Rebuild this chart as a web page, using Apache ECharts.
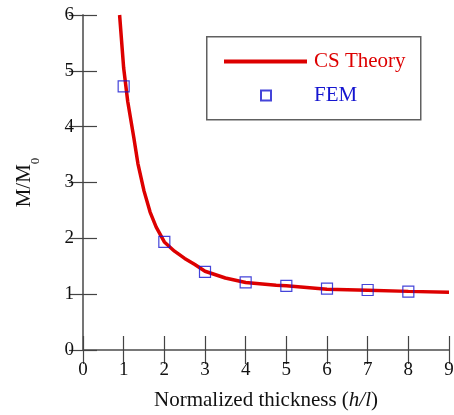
<!DOCTYPE html>
<html>
<head>
<meta charset="utf-8">
<script src="https://cdn.jsdelivr.net/npm/echarts@6/dist/echarts.min.js"></script>
<style>
  html, body { margin: 0; padding: 0; background: #fff; }
  #chart { width: 454px; height: 415px; }
</style>
</head>
<body>
<div id="chart"></div>
<script>
// CS theory curve
const curveX = [0.9, 1.0, 1.1, 1.25, 1.35, 1.5, 1.65, 1.8, 2.0, 2.25, 2.5, 2.75, 3.0, 3.5, 4.0, 4.75, 5.0, 6.0, 7.0, 8.0, 9.0]
const curveY = [6.0, 5.05, 4.45, 3.8, 3.34, 2.85, 2.47, 2.2, 1.935, 1.77, 1.64, 1.53, 1.41, 1.29, 1.21, 1.16, 1.15, 1.09, 1.07, 1.05, 1.035]
// FEM points
const femX = [1, 2, 3, 4, 5, 6, 7, 8]
const femY = [4.72, 1.935, 1.40, 1.21, 1.15, 1.10, 1.075, 1.045]

const xTicks = { min: 0, max: 9, interval: 1 }
const yTicks = { min: 0, max: 6, interval: 1 }

const serif = 'Liberation Serif'
const red = '#dd0000'
const blue = '#1515d0'

const axisLine = { lineStyle: { color: '#707070', width: 1.6 } }
const axisTick = { inside: true, length: 14, lineStyle: { color: '#444', width: 1.2 } }
const axisLabel = { fontFamily: serif, fontSize: 19, color: '#111', margin: 9 }

const legendText = { fontFamily: serif, fontSize: 21 }

const option = {
  animation: false,
  grid: { left: 83, right: 5, top: 15, bottom: 65, outerBoundsMode: 'none', containLabel: false },
  // legend frame
  graphic: [{
    type: 'rect',
    left: 206,
    top: 36,
    shape: { width: 214, height: 83 },
    style: { fill: '#fff', stroke: '#606060', lineWidth: 1.5 },
    z: 10
  }],
  legend: [
    {
      left: 224,
      top: 51,
      padding: 0,
      itemWidth: 83,
      itemHeight: 4,
      textStyle: legendText,
      z: 20,
      data: [{ name: 'CS Theory', icon: 'rect', textStyle: { color: red, padding: [0, 0, 0, 2] } }]
    },
    {
      left: 260,
      top: 85,
      padding: 0,
      itemWidth: 10,
      itemHeight: 10,
      textStyle: legendText,
      z: 20,
      data: [{ name: 'FEM', icon: 'rect', textStyle: { color: blue, padding: [0, 0, 0, 38] } }]
    }
  ],
  xAxis: [
    Object.assign({
      type: 'value',
      position: 'bottom',
      axisLine,
      axisTick,
      axisLabel: Object.assign({}, axisLabel, { margin: 11 }),
      splitLine: { show: false },
      name: 'Normalized thickness ({i|h/l})',
      nameLocation: 'middle',
      nameGap: 40,
      nameTextStyle: {
        fontFamily: serif, fontSize: 21, color: '#111',
        rich: { i: { fontFamily: serif, fontSize: 21, fontStyle: 'italic', color: '#111' } }
      }
    }, xTicks),
    Object.assign({
      type: 'value',
      position: 'top',
      axisLine,
      axisTick,
      axisLabel: { show: false },
      splitLine: { show: false }
    }, xTicks)
  ],
  yAxis: [
    Object.assign({
      type: 'value',
      position: 'left',
      axisLine,
      axisTick,
      axisLabel,
      splitLine: { show: false },
      name: '{m|M/M}{s|0}',
      nameLocation: 'middle',
      nameGap: 41,
      nameTextStyle: {
        rich: {
          m: { fontFamily: serif, fontSize: 21, color: '#111', lineHeight: 28, verticalAlign: 'top' },
          s: { fontFamily: serif, fontSize: 13, color: '#111', lineHeight: 28, verticalAlign: 'bottom' }
        }
      }
    }, yTicks),
    Object.assign({
      type: 'value',
      position: 'right',
      axisLine,
      axisTick,
      axisLabel: { show: false },
      splitLine: { show: false }
    }, yTicks)
  ],
  series: [
    {
      name: 'CS Theory',
      type: 'line',
      xAxisIndex: 0,
      yAxisIndex: 0,
      showSymbol: false,
      symbol: 'none',
      lineStyle: { color: red, width: 3.5 },
      itemStyle: { color: red },
      data: curveX.map((x, i) => [x, curveY[i]])
    },
    {
      name: 'FEM',
      type: 'scatter',
      xAxisIndex: 0,
      yAxisIndex: 0,
      symbol: 'rect',
      symbolSize: 11,
      itemStyle: { color: 'rgba(0,0,0,0)', borderColor: blue, borderWidth: 1.2 },
      z: 3,
      data: femX.map((x, i) => [x, femY[i]])
    }
  ]
}

const myChart = echarts.init(document.getElementById('chart'))
myChart.setOption(option)
</script>
</body>
</html>
